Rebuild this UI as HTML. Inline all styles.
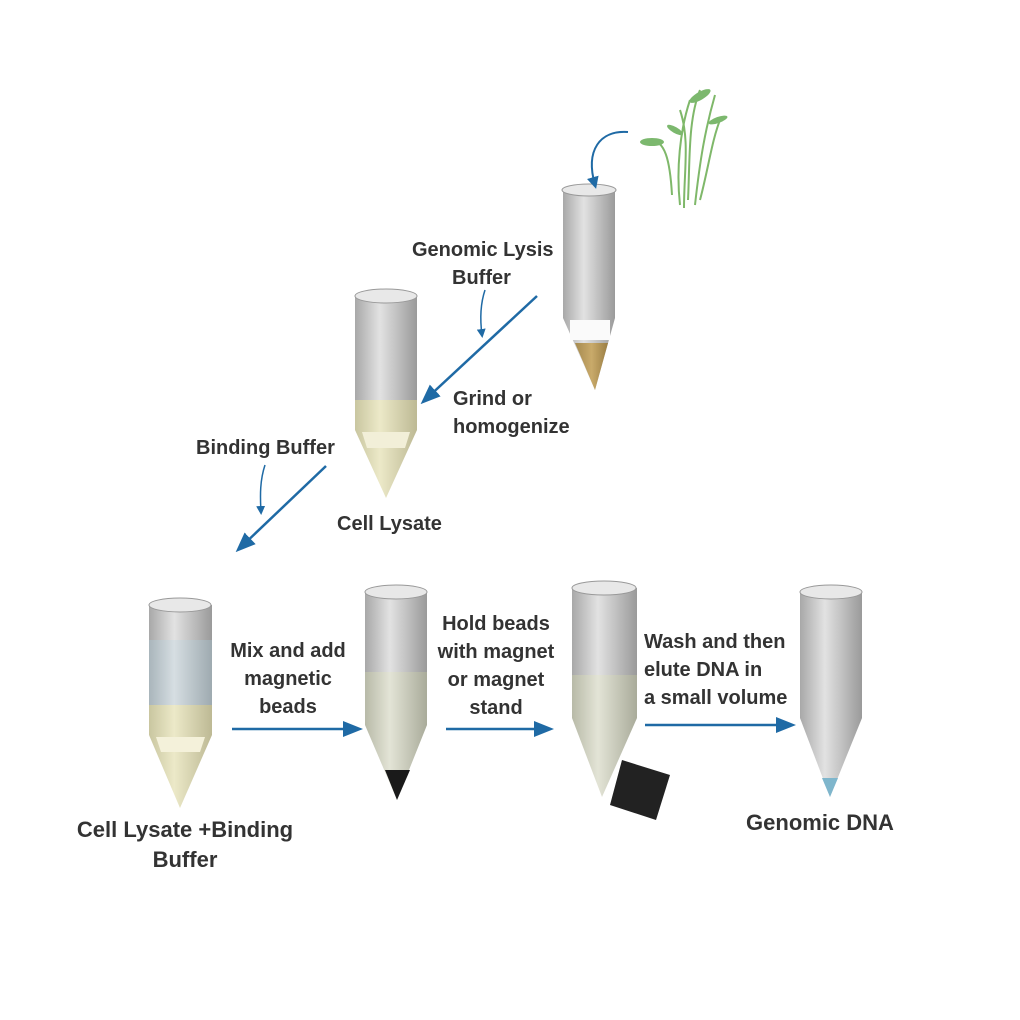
<!DOCTYPE html>
<html><head><meta charset="utf-8"><style>
html,body{margin:0;padding:0;background:#fff}
svg{display:block}
text{font-family:"Liberation Sans",sans-serif;font-weight:bold;fill:#333;font-size:20px}
</style></head><body>
<svg width="1020" height="1020" viewBox="0 0 1020 1020" xmlns="http://www.w3.org/2000/svg">
<defs>
<linearGradient id="g" x1="0" x2="1"><stop offset="0" stop-color="#a8a8a8"/><stop offset="0.4" stop-color="#e2e2e2"/><stop offset="1" stop-color="#9a9a9a"/></linearGradient>
<linearGradient id="y" x1="0" x2="1"><stop offset="0" stop-color="#c9c6a0"/><stop offset="0.4" stop-color="#ece9c8"/><stop offset="1" stop-color="#bdb994"/></linearGradient>
<linearGradient id="b" x1="0" x2="1"><stop offset="0" stop-color="#a9b5bb"/><stop offset="0.4" stop-color="#d6dee2"/><stop offset="1" stop-color="#9eaab0"/></linearGradient>
<linearGradient id="w" x1="0" x2="1"><stop offset="0" stop-color="#b8baa8"/><stop offset="0.4" stop-color="#e3e4d6"/><stop offset="1" stop-color="#a9ab9a"/></linearGradient>
<linearGradient id="br" x1="0" x2="1"><stop offset="0" stop-color="#a58a50"/><stop offset="0.5" stop-color="#c9aa6a"/><stop offset="1" stop-color="#9a7e44"/></linearGradient>
<marker id="ah" markerWidth="6" markerHeight="6" refX="4" refY="3" orient="auto" markerUnits="strokeWidth"><path d="M0,0 L6,3 L0,6 Z" fill="#1f6aa5"/></marker>
<marker id="ah2" markerWidth="20" markerHeight="16" refX="14" refY="8" orient="auto" markerUnits="userSpaceOnUse"><path d="M0,0 L20,8 L0,16 Z" fill="#1f6aa5"/></marker>
</defs>

<!-- Tube 1 top right -->
<rect x="563" y="190" width="52" height="128" fill="url(#g)"/>
<polygon points="563,318 615,318 595,390" fill="url(#g)"/>
<rect x="570" y="320" width="40" height="20" fill="#fafafa"/>
<polygon points="575,343 608,343 595,390" fill="url(#br)"/>
<ellipse cx="589" cy="190" rx="27" ry="6" fill="#e8e8e8" stroke="#999"/>

<!-- plant -->
<g stroke="#7fb86a" stroke-width="2" fill="none">
<path d="M680,205 C676,170 680,130 690,100"/><path d="M688,200 C690,160 688,120 700,90"/><path d="M695,205 C700,160 705,130 715,95"/><path d="M672,195 C670,160 665,140 650,140"/><path d="M700,200 C708,170 712,140 720,120"/><path d="M684,208 C684,170 690,140 680,110"/>
</g>
<g fill="#7cb86e"><ellipse cx="700" cy="96" rx="12" ry="4" transform="rotate(-30 700 96)"/><ellipse cx="652" cy="142" rx="12" ry="4"/><ellipse cx="718" cy="120" rx="10" ry="3" transform="rotate(-20 718 120)"/><ellipse cx="675" cy="130" rx="9" ry="3" transform="rotate(30 675 130)"/></g>
<path d="M628,132 C600,130 585,150 595,185" stroke="#1f6aa5" stroke-width="2" fill="none" marker-end="url(#ah)"/>

<!-- Tube 2 Cell Lysate -->
<rect x="355" y="296" width="62" height="134" fill="url(#g)"/>
<rect x="355" y="400" width="62" height="30" fill="url(#y)"/>
<polygon points="355,430 417,430 386,498" fill="url(#y)"/>
<polygon points="362,432 410,432 405,448 367,448" fill="#f2efd8"/>
<ellipse cx="386" cy="296" rx="31" ry="7" fill="#e8e8e8" stroke="#999"/>

<line x1="537" y1="296" x2="425" y2="400" stroke="#1f6aa5" stroke-width="2.5" marker-end="url(#ah2)"/>
<path d="M485,290 C480,305 480,320 482,335" stroke="#1f6aa5" stroke-width="1.5" fill="none" marker-end="url(#ah)"/>
<text x="412" y="256">Genomic Lysis</text>
<text x="452" y="284">Buffer</text>
<text x="453" y="405">Grind or</text>
<text x="453" y="433">homogenize</text>
<text x="196" y="454">Binding Buffer</text>
<path d="M265,465 C260,480 260,495 261,512" stroke="#1f6aa5" stroke-width="1.5" fill="none" marker-end="url(#ah)"/>
<line x1="326" y1="466" x2="240" y2="548" stroke="#1f6aa5" stroke-width="2.5" marker-end="url(#ah2)"/>
<text x="337" y="530">Cell Lysate</text>

<!-- Tube A -->
<rect x="149" y="605" width="63" height="130" fill="url(#g)"/>
<rect x="149" y="640" width="63" height="65" fill="url(#b)"/>
<rect x="149" y="705" width="63" height="30" fill="url(#y)"/>
<polygon points="149,735 212,735 180,808" fill="url(#y)"/>
<polygon points="156,737 205,737 200,752 161,752" fill="#f4f1da"/>
<ellipse cx="180" cy="605" rx="31" ry="7" fill="#e8e8e8" stroke="#999"/>

<!-- Tube B -->
<rect x="365" y="592" width="62" height="133" fill="url(#g)"/>
<rect x="365" y="672" width="62" height="53" fill="url(#w)"/>
<polygon points="365,725 427,725 397,800" fill="url(#w)"/>
<polygon points="385,770 410,770 397,800" fill="#1a1a1a"/>
<ellipse cx="396" cy="592" rx="31" ry="7" fill="#e8e8e8" stroke="#999"/>

<!-- Tube C -->
<rect x="572" y="588" width="65" height="130" fill="url(#g)"/>
<rect x="572" y="675" width="65" height="43" fill="url(#w)"/>
<polygon points="572,718 637,718 602,797" fill="url(#w)"/>
<ellipse cx="604" cy="588" rx="32" ry="7" fill="#e8e8e8" stroke="#999"/>
<polygon points="622,760 670,775 656,820 610,805" fill="#222"/>

<!-- Tube D -->
<rect x="800" y="592" width="62" height="126" fill="url(#g)"/>
<polygon points="800,718 862,718 830,797" fill="url(#g)"/>
<polygon points="822,778 838,778 830,797" fill="#7fb6cc"/>
<ellipse cx="831" cy="592" rx="31" ry="7" fill="#e8e8e8" stroke="#999"/>

<!-- horizontal arrows -->
<line x1="232" y1="729" x2="357" y2="729" stroke="#1f6aa5" stroke-width="2.5" marker-end="url(#ah2)"/>
<line x1="446" y1="729" x2="548" y2="729" stroke="#1f6aa5" stroke-width="2.5" marker-end="url(#ah2)"/>
<line x1="645" y1="725" x2="790" y2="725" stroke="#1f6aa5" stroke-width="2.5" marker-end="url(#ah2)"/>

<text x="288" y="657" text-anchor="middle">Mix and add</text>
<text x="288" y="685" text-anchor="middle">magnetic</text>
<text x="288" y="713" text-anchor="middle">beads</text>
<text x="496" y="630" text-anchor="middle">Hold beads</text>
<text x="496" y="658" text-anchor="middle">with magnet</text>
<text x="496" y="686" text-anchor="middle">or magnet</text>
<text x="496" y="714" text-anchor="middle">stand</text>
<text x="644" y="648">Wash and then</text>
<text x="644" y="676">elute DNA in</text>
<text x="644" y="704">a small volume</text>
<text x="185" y="837" text-anchor="middle" style="font-size:22px">Cell Lysate +Binding</text>
<text x="185" y="867" text-anchor="middle" style="font-size:22px">Buffer</text>
<text x="820" y="830" text-anchor="middle" style="font-size:22px">Genomic DNA</text>
</svg>
</body></html>
